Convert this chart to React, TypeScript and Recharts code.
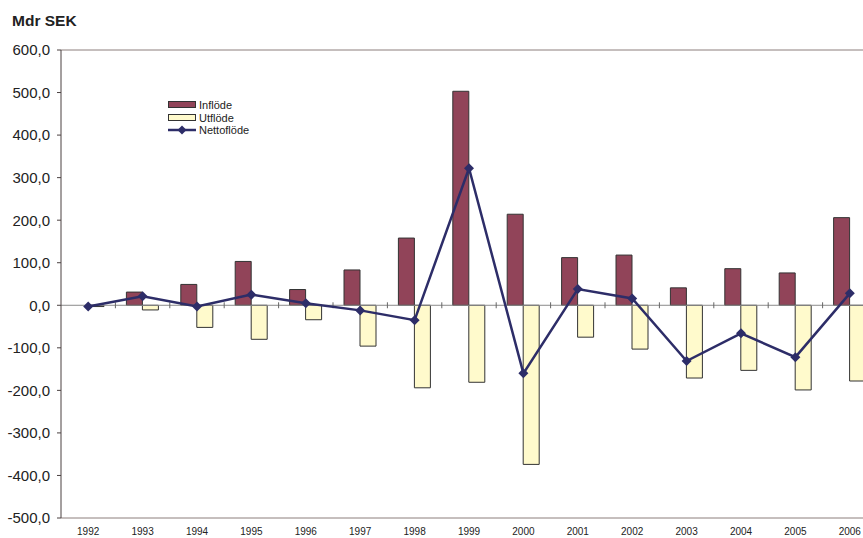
import React from "react";
import {
  Bar,
  ComposedChart,
  Line,
  ReferenceLine,
  XAxis,
  YAxis,
} from "recharts";

const years = [
  "1992", "1993", "1994", "1995", "1996", "1997", "1998", "1999",
  "2000", "2001", "2002", "2003", "2004", "2005", "2006",
];
const inflode = [0, 31, 49, 103, 37, 83, 158, 503, 214, 112, 118, 41, 86, 76, 206];
const utflode = [-3, -11, -52, -80, -34, -96, -194, -181, -374, -75, -103, -171, -153, -199, -178];
const netto = [-3, 21, -3, 25, 5, -12, -35, 322, -160, 38, 16, -131, -66, -122, 28];
const yTicks = [-500, -400, -300, -200, -100, 0, 100, 200, 300, 400, 500, 600];

const INFLODE_FILL = "#914459";
const UTFLODE_FILL = "#fffacc";
const NETTO_STROKE = "#2d2d68";
const FONT = "'Liberation Sans', Arial, sans-serif";

const data = years.map((year, i) => ({
  idx: i,
  year,
  inflode: inflode[i],
  utflode: utflode[i],
  netto: netto[i],
}));

// tick marks on the zero line, between the categories
const boundaries = years.slice(1).map((_, i) => i + 0.5);

function Diamond(props: any) {
  const { cx, cy, index } = props;
  if (cx == null || cy == null) return null;
  const r = 5;
  return (
    <path
      key={`d-${index}`}
      d={`M${cx},${cy - r}L${cx + r},${cy}L${cx},${cy + r}L${cx - r},${cy}Z`}
      fill={NETTO_STROKE}
    />
  );
}

function LegendBox() {
  const row = { display: "flex", alignItems: "center", height: 12.5 };
  const label = { marginLeft: 3, fontSize: 11, color: "#222", fontFamily: FONT };
  return (
    <div style={{ position: "absolute", left: 168, top: 99, zIndex: 2 }}>
      <div style={row}>
        <svg width={28} height={8}>
          <rect x={0.5} y={0.5} width={27} height={6} fill={INFLODE_FILL} stroke="#333" />
        </svg>
        <span style={label}>Inflöde</span>
      </div>
      <div style={row}>
        <svg width={28} height={8}>
          <rect x={0.5} y={0.5} width={27} height={6} fill={UTFLODE_FILL} stroke="#333" />
        </svg>
        <span style={label}>Utflöde</span>
      </div>
      <div style={row}>
        <svg width={28} height={10}>
          <line x1={0} y1={5} x2={28} y2={5} stroke={NETTO_STROKE} strokeWidth={2.5} />
          <path d="M14,0.5L18.5,5L14,9.5L9.5,5Z" fill={NETTO_STROKE} />
        </svg>
        <span style={label}>Nettoflöde</span>
      </div>
    </div>
  );
}

export default function App() {
  return (
    <div
      style={{
        position: "absolute",
        left: 0,
        top: 0,
        width: 863,
        height: 538,
        overflow: "hidden",
        background: "#fff",
        fontFamily: FONT,
      }}
    >
      <div
        style={{
          position: "absolute",
          left: 12,
          top: 13,
          fontSize: 15.5,
          lineHeight: "15.5px",
          fontWeight: "bold",
          color: "#222",
          zIndex: 2,
        }}
      >
        Mdr SEK
      </div>
      <LegendBox />
      <ComposedChart
        width={880}
        height={538}
        data={data}
        margin={{ top: 50, right: 3, left: 0, bottom: 0 }}
        barGap={0}
      >
        <XAxis
          type="number"
          dataKey="idx"
          domain={[-0.5, years.length - 0.5]}
          ticks={years.map((_, i) => i)}
          interval={0}
          tickFormatter={(v) => years[v]}
          height={20}
          tickLine={false}
          tickMargin={4}
          axisLine={{ stroke: "#8c7f7c" }}
          tick={{ fontSize: 10, fill: "#222", fontFamily: FONT }}
        />
        <YAxis
          domain={[-500, 600]}
          ticks={yTicks}
          interval={0}
          width={61}
          tickSize={4}
          tickMargin={7}
          tickFormatter={(v) => Number(v).toFixed(1).replace(".", ",")}
          axisLine={{ stroke: "#4a4040" }}
          tickLine={{ stroke: "#4a4040" }}
          tick={{ fontSize: 15, fill: "#222", fontFamily: FONT }}
        />
        <ReferenceLine y={600} stroke="#8c7f7c" />
        <Bar
          dataKey="inflode"
          barSize={16}
          fill={INFLODE_FILL}
          stroke="#333"
          strokeWidth={1}
          isAnimationActive={false}
        />
        <Bar
          dataKey="utflode"
          barSize={16}
          fill={UTFLODE_FILL}
          stroke="#333"
          strokeWidth={1}
          isAnimationActive={false}
        />
        <ReferenceLine y={0} stroke="#8a8a8a" />
        {boundaries.map((b) => (
          <ReferenceLine
            key={b}
            segment={[
              { x: b, y: -7 },
              { x: b, y: 7 },
            ]}
            stroke="#666"
          />
        ))}
        <Line
          dataKey="netto"
          stroke={NETTO_STROKE}
          strokeWidth={2.5}
          dot={<Diamond />}
          activeDot={false}
          isAnimationActive={false}
        />
      </ComposedChart>
    </div>
  );
}
